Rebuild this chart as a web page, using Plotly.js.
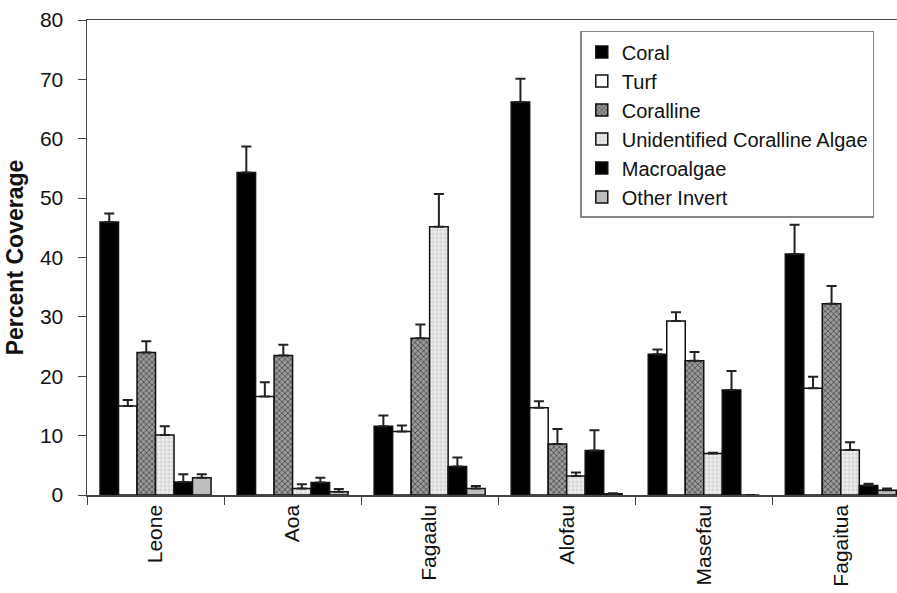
<!DOCTYPE html>
<html>
<head>
<meta charset="utf-8">
<script src="https://cdn.plot.ly/plotly-3.0.1.min.js"></script>
<style>html,body{margin:0;padding:0;background:#fff;}#chart{width:897px;height:593px;}</style>
</head>
<body>
<div id="chart"></div>
<script>
const sites = ["Leone", "Aoa", "Fagaalu", "Alofau", "Masefau", "Fagaitua"];

const coral        = [46.0, 54.3, 11.6, 66.2, 23.7, 40.6];
const coralErr     = [1.4, 4.4, 1.8, 3.9, 0.8, 4.9];
const turf         = [15.0, 16.6, 10.7, 14.7, 29.3, 18.0];
const turfErr      = [1.0, 2.4, 1.0, 1.1, 1.5, 1.9];
const coralline    = [24.0, 23.5, 26.4, 8.6, 22.6, 32.2];
const corallineErr = [1.9, 1.8, 2.3, 2.5, 1.5, 3.0];
const unidAlgae    = [10.1, 1.1, 45.2, 3.2, 7.0, 7.6];
const unidErr      = [1.5, 0.7, 5.5, 0.6, 0.1, 1.3];
const macroalgae   = [2.2, 2.1, 4.8, 7.5, 17.7, 1.6];
const macroErr     = [1.3, 0.8, 1.5, 3.4, 3.2, 0.3];
const otherInvert  = [2.9, 0.55, 1.1, 0.2, 0, 0.8];
const otherErr     = [0.6, 0.45, 0.4, 0.1, 0, 0.3];

const seriesNames = ["Coral", "Turf", "Coralline", "Unidentified Coralline Algae", "Macroalgae", "Other Invert"];

function mk(name, y, err, color, pattern) {
  const m = {color: color, line: {color: "#111", width: 1.5}};
  if (pattern) m.pattern = pattern;
  return {
    type: "bar", name: name, x: sites, y: y, legendgroup: name,
    marker: m,
    error_y: {type: "data", array: err, arrayminus: err.map(() => 0), symmetric: false,
              color: "#222", thickness: 2, width: 5, visible: true}
  };
}

const data = [
  mk(seriesNames[0], coral, coralErr, "#000"),
  mk(seriesNames[1], turf, turfErr, "#fff"),
  mk(seriesNames[2], coralline, corallineErr, "#8a8a8a", {shape: "x", fgcolor: "#444", bgcolor: "#9a9a9a", size: 4, solidity: 0.35}),
  mk(seriesNames[3], unidAlgae, unidErr, "#eee", {shape: "+", fgcolor: "#c4c4c4", bgcolor: "#efefef", size: 4, solidity: 0.3}),
  mk(seriesNames[4], macroalgae, macroErr, "#000"),
  mk(seriesNames[5], otherInvert, otherErr, "#bdbdbd")
];

const layout = {
  width: 897, height: 593,
  margin: {l: 87, r: 0, t: 20, b: 98},
  paper_bgcolor: "#fff", plot_bgcolor: "#fff",
  font: {family: "Liberation Sans, Arial, sans-serif", color: "#111", size: 20},
  barmode: "group", bargap: 0.19, bargroupgap: 0,
  showlegend: true,
  legend: {
    x: 0.609, y: 0.977, xanchor: "left", yanchor: "top",
    bgcolor: "#fff", bordercolor: "#888", borderwidth: 1.5,
    font: {size: 20, color: "#111"}, tracegroupgap: 3,
    traceorder: "normal", itemwidth: 30
  },
  xaxis: {
    type: "category", range: [-0.5, 5.41],
    showline: true, linecolor: "#444", linewidth: 1.5, mirror: true,
    ticks: "outside", tickson: "boundaries", ticklen: 8, tickcolor: "#444", tickwidth: 1,
    tickangle: -90, tickfont: {size: 21}, showgrid: false, zeroline: false
  },
  yaxis: {
    range: [0, 80], dtick: 10,
    showline: true, linecolor: "#444", linewidth: 1.5,
    ticks: "outside", ticklen: 8, tickcolor: "#444", tickwidth: 1,
    ticklabelstandoff: 10,
    tickfont: {size: 21}, showgrid: false, zeroline: false,
    title: {text: "<b>Percent Coverage</b>", font: {size: 23}, standoff: 10}
  }
};

Plotly.newPlot("chart", data, layout, {displayModeBar: false, staticPlot: true});
</script>
</body>
</html>
